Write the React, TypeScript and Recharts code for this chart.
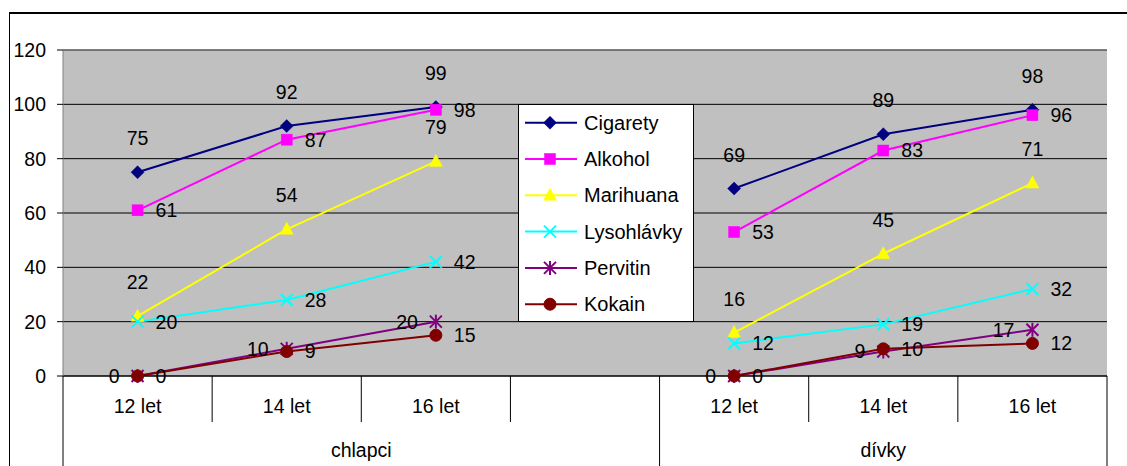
import React from "react";
import {
  LineChart,
  Line,
  XAxis,
  YAxis,
  CartesianGrid,
  LabelList,
  Legend,
  ReferenceLine,
} from "recharts";

// ---------- data ----------
const categories = ["12 let", "14 let", "16 let", "", "12 let", "14 let", "16 let"];
const groupLabels = ["chlapci", "dívky"];
const groupRanges = [
  [0, 3],
  [4, 6],
];
const yTicks = [0, 20, 40, 60, 80, 100, 120];

const cigarety = [75, 92, 99, null, 69, 89, 98];
const alkohol = [61, 87, 98, null, 53, 83, 96];
const marihuana = [22, 54, 79, null, 16, 45, 71];
const lysohlavky = [20, 28, 42, null, 12, 19, 32];
const pervitin = [0, 10, 20, null, 0, 9, 17];
const kokain = [0, 9, 15, null, 0, 10, 12];

type Shape = "diamond" | "square" | "triangle" | "x" | "star" | "circle";
type Pos = "top" | "right" | "left";

const series: { key: string; name: string; values: (number | null)[]; color: string; shape: Shape; pos: Pos }[] = [
  { key: "cig", name: "Cigarety", values: cigarety, color: "#000080", shape: "diamond", pos: "top" },
  { key: "alk", name: "Alkohol", values: alkohol, color: "#FF00FF", shape: "square", pos: "right" },
  { key: "mar", name: "Marihuana", values: marihuana, color: "#FFFF00", shape: "triangle", pos: "top" },
  { key: "lys", name: "Lysohlávky", values: lysohlavky, color: "#00FFFF", shape: "x", pos: "right" },
  { key: "per", name: "Pervitin", values: pervitin, color: "#800080", shape: "star", pos: "left" },
  { key: "kok", name: "Kokain", values: kokain, color: "#800000", shape: "circle", pos: "right" },
];

const rows = categories.map((c, i) => {
  const r: Record<string, any> = { k: "k" + i, label: c };
  series.forEach((s) => {
    r[s.key] = s.values[i];
  });
  return r;
});

// ---------- layout ----------
const W = 1119;
const H = 458;
const MARGIN = { top: 42, right: 20, bottom: 0, left: 0 };
const Y_W = 55;
const X_H = 90;
const PLOT_W = W - MARGIN.left - MARGIN.right - Y_W;
const BAND = PLOT_W / categories.length;
const FONT = "'Liberation Sans', Arial, sans-serif";
const FS = 19.5;

function Marker({ cx, cy, shape, color }: { cx: number; cy: number; shape: Shape; color: string }) {
  switch (shape) {
    case "diamond":
      return <polygon points={`${cx},${cy - 6.5} ${cx + 6.5},${cy} ${cx},${cy + 6.5} ${cx - 6.5},${cy}`} fill={color} stroke={color} strokeWidth={0.5} />;
    case "square":
      return <rect x={cx - 5.5} y={cy - 5.5} width={11} height={11} fill={color} stroke={color} strokeWidth={0.5} />;
    case "triangle":
      return <polygon points={`${cx},${cy - 7} ${cx + 6.5},${cy + 5} ${cx - 6.5},${cy + 5}`} fill={color} stroke={color} strokeWidth={0.5} />;
    case "x":
      return (
        <g stroke={color} strokeWidth={2}>
          <line x1={cx - 6} y1={cy - 6} x2={cx + 6} y2={cy + 6} />
          <line x1={cx - 6} y1={cy + 6} x2={cx + 6} y2={cy - 6} />
        </g>
      );
    case "star":
      return (
        <g stroke={color} strokeWidth={2}>
          <line x1={cx - 6} y1={cy - 6} x2={cx + 6} y2={cy + 6} />
          <line x1={cx - 6} y1={cy + 6} x2={cx + 6} y2={cy - 6} />
          <line x1={cx} y1={cy - 7} x2={cx} y2={cy + 7} />
        </g>
      );
    case "circle":
    default:
      return <circle cx={cx} cy={cy} r={6} fill={color} stroke={color} />;
  }
}

const makeDot = (shape: Shape, color: string) => (p: any) => {
  if (p == null || p.cy == null || p.cx == null || p.value == null || isNaN(p.cy)) return <g key={"d" + (p && p.index)} />;
  return (
    <g key={"d" + p.index}>
      <Marker cx={p.cx} cy={p.cy} shape={shape} color={color} />
    </g>
  );
};

const makeLabel = (pos: Pos) => (props: any) => {
  const vb = props.viewBox || {};
  const x = props.x ?? vb.x;
  const y = props.y ?? vb.y;
  const value = props.value;
  if (value == null || x == null || y == null || isNaN(x) || isNaN(y)) return null;
  let tx = x;
  let ty = y + FS * 0.355;
  let anchor: "middle" | "start" | "end" = "middle";
  if (pos === "top") {
    ty = y - 27;
  } else if (pos === "right") {
    tx = x + 18;
    anchor = "start";
  } else {
    tx = x - 18;
    anchor = "end";
  }
  return (
    <text key={"l" + props.index} x={tx} y={ty} textAnchor={anchor} fontSize={FS} fontFamily={FONT} fill="#000">
      {value}
    </text>
  );
};

function CatTick(props: any) {
  const { x, y, index } = props;
  const half = BAND / 2;
  const last = categories.length - 1;
  const isGroupStart = groupRanges.some((g) => g[0] === index);
  const els: React.ReactNode[] = [];
  if (categories[index]) {
    els.push(
      <text key="t" x={x} y={y + 37} textAnchor="middle" fontSize={FS} fontFamily={FONT} fill="#000">
        {categories[index]}
      </text>
    );
  }
  els.push(<line key="l" x1={x - half} y1={y} x2={x - half} y2={y + (isGroupStart ? X_H : 46)} stroke="#000" strokeWidth={1} />);
  if (index === last) {
    els.push(<line key="r" x1={x + half} y1={y} x2={x + half} y2={y + X_H} stroke="#000" strokeWidth={1} />);
  }
  groupRanges.forEach((g, gi) => {
    if (g[0] === index) {
      const cx = x - half + ((g[1] - g[0] + 1) * BAND) / 2;
      els.push(
        <text key={"g" + gi} x={cx} y={y + 81} textAnchor="middle" fontSize={FS} fontFamily={FONT} fill="#000">
          {groupLabels[gi]}
        </text>
      );
    }
  });
  return <g>{els}</g>;
}

function LegendBox() {
  const rowH = 36.3;
  return (
    <div
      style={{
        width: 174,
        height: 216,
        border: "1px solid #000",
        background: "#fff",
        boxSizing: "content-box",
      }}
    >
      <svg width={174} height={216} style={{ display: "block" }}>
        {series.map((s, i) => {
          const cy = 17.7 + i * rowH;
          return (
            <g key={s.key}>
              <line x1={6} y1={cy} x2={58} y2={cy} stroke={s.color} strokeWidth={2} />
              <Marker cx={31} cy={cy} shape={s.shape} color={s.color} />
              <text x={65} y={cy + 20 * 0.355} fontSize={20} fontFamily={FONT} fill="#000">
                {s.name}
              </text>
            </g>
          );
        })}
      </svg>
    </div>
  );
}

export default function App() {
  return (
    <div
      style={{
        position: "fixed",
        left: 8,
        top: 8,
        width: W,
        height: H,
        overflow: "hidden",
        background: "#fff",
      }}
    >
      <div
        style={{
          position: "absolute",
          left: 1,
          top: 4,
          right: 0,
          bottom: 0,
          borderTop: "2px solid #000",
          borderLeft: "1px solid #000",
        }}
      />
      <div style={{ position: "absolute", left: 0, top: 0 }}>
        <LineChart width={W} height={H} data={rows} margin={MARGIN}>
          <CartesianGrid vertical={false} stroke="#000" fill="#C0C0C0" />
          <ReferenceLine y={120} stroke="#808080" strokeWidth={1} />
          <XAxis
            dataKey="k"
            type="category"
            interval={0}
            height={X_H}
            padding={{ left: BAND / 2, right: BAND / 2 }}
            tickLine={false}
            tickSize={0}
            tickMargin={0}
            axisLine={{ stroke: "#000" }}
            tick={<CatTick />}
          />
          <YAxis
            domain={[0, 120]}
            ticks={yTicks}
            interval={0}
            width={Y_W}
            tickSize={6}
            tickMargin={11}
            axisLine={{ stroke: "#808080" }}
            tickLine={{ stroke: "#000" }}
            tick={{ fill: "#000", fontSize: FS, fontFamily: FONT }}
          />
          <YAxis
            yAxisId="right"
            orientation="right"
            domain={[0, 120]}
            width={0}
            tick={false}
            tickLine={false}
            axisLine={{ stroke: "#808080" }}
          />
          {series.map((s) => (
            <Line
              key={s.key}
              dataKey={s.key}
              name={s.name}
              stroke={s.color}
              strokeWidth={2}
              dot={makeDot(s.shape, s.color)}
              activeDot={false}
              connectNulls={false}
              isAnimationActive={false}
            >
              <LabelList dataKey={s.key} content={makeLabel(s.pos)} />
            </Line>
          ))}
          <Legend
            layout="vertical"
            align="center"
            verticalAlign="middle"
            content={() => <LegendBox />}
            wrapperStyle={{ position: "absolute", left: 510, top: 96, width: 176, height: 218 }}
          />
        </LineChart>
      </div>
    </div>
  );
}
